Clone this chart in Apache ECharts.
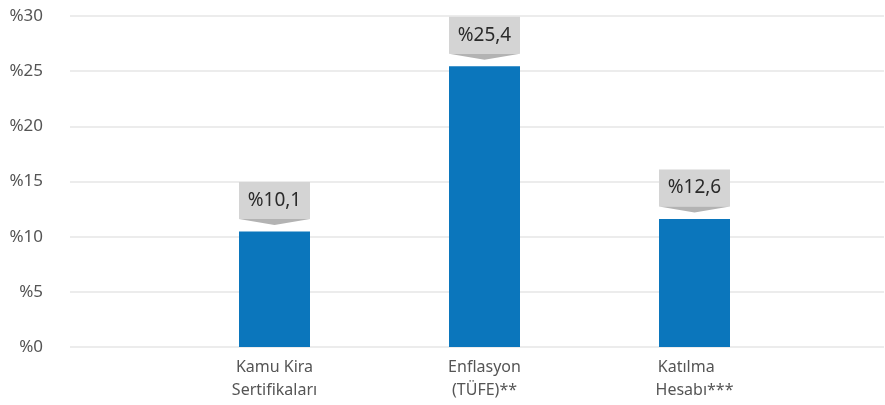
<!DOCTYPE html>
<html>
<head>
<meta charset="utf-8">
<script src="https://cdn.jsdelivr.net/npm/echarts@6/dist/echarts.min.js"></script>
<style>html,body{margin:0;padding:0;background:#fff;}#c{width:885px;height:405px;}</style>
</head>
<body>
<div id="c"></div>
<script>
const categories = ['Kamu Kira\nSertifikaları', 'Enflasyon\n(TÜFE)**', 'Katılma    \nHesabı***'];
const barValues = [10.46, 25.45, 11.6];
const labelValues = [10.1, 25.4, 12.6];
const yTicks = { min: 0, max: 30, interval: 5 };

const FONT = '"Noto Sans", sans-serif';
const chart = echarts.init(document.getElementById('c'));
const calloutData = barValues.map((v, i) => [i, v, '%' + String(labelValues[i]).replace('.', ',')]);

chart.setOption({
  animation: false,
  grid: [
    { left: 70, right: 1, top: 16, bottom: 58 },
    { left: 169.5, right: 85.5, top: 16, bottom: 58 }
  ],
  xAxis: [
    { type: 'category', gridIndex: 0, data: categories, show: false },
    {
      type: 'category', gridIndex: 1, data: categories,
      axisLine: { show: false }, axisTick: { show: false },
      axisLabel: { color: '#555', fontSize: 16, fontFamily: FONT, lineHeight: 23, margin: 9, interval: 0 }
    }
  ],
  yAxis: [
    {
      type: 'value', gridIndex: 0, min: yTicks.min, max: yTicks.max, interval: yTicks.interval,
      axisLine: { show: false }, axisTick: { show: false },
      axisLabel: { formatter: '%{value}', color: '#555', fontSize: 17, fontFamily: FONT, margin: 27 },
      splitLine: { lineStyle: { color: '#e6e6e6', width: 1.5 } }
    },
    { type: 'value', gridIndex: 1, min: yTicks.min, max: yTicks.max, interval: yTicks.interval, show: false }
  ],
  series: [
    {
      type: 'bar', xAxisIndex: 1, yAxisIndex: 1, data: barValues, barWidth: 71,
      itemStyle: { color: '#0b76bc' }
    },
    {
      type: 'custom', xAxisIndex: 1, yAxisIndex: 1, data: calloutData, z: 5,
      renderItem: function (params, api) {
        const p = api.coord([api.value(0), api.value(1)]);
        const w = 71, tipGap = 6.5, triH = 6, boxH = 37;
        const x0 = p[0] - w / 2;
        const tip = p[1] - tipGap;
        const boxBottom = tip - triH;
        const boxTop = boxBottom - boxH;
        return {
          type: 'group',
          children: [
            { type: 'rect', shape: { x: x0, y: boxTop, width: w, height: boxH }, style: { fill: '#d4d4d4' } },
            { type: 'polygon', shape: { points: [[x0, boxBottom], [x0 + w, boxBottom], [p[0], tip]] }, style: { fill: '#b3b3b3' } },
            { type: 'text', style: { text: calloutData[params.dataIndex][2], x: p[0], y: boxTop + boxH / 2, align: 'center', verticalAlign: 'middle', fill: '#2a2a2a', font: '19px ' + FONT } }
          ]
        };
      }
    }
  ]
});
</script>
</body>
</html>
